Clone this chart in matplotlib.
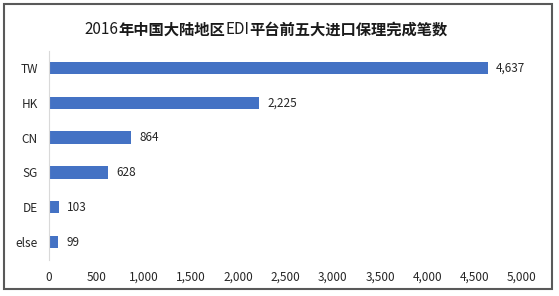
import matplotlib
matplotlib.use("Agg")
import matplotlib.pyplot as plt
from matplotlib.patches import Rectangle

plt.rcParams['font.family'] = ['Noto Sans CJK SC', 'DejaVu Sans']

categories = ["TW", "HK", "CN", "SG", "DE", "else"]
values = [4637, 2225, 864, 628, 103, 99]
xticks = [0, 500, 1000, 1500, 2000, 2500, 3000, 3500, 4000, 4500, 5000]
title_parts = [("2016", "normal"), ("年中国大陆地区", "bold"), ("EDI", "normal"),
               ("平台前五大进口保理完成笔数", "bold")]

W, H = 559, 296
fig = plt.figure(figsize=(W/100, H/100), dpi=100)
fig.patches.append(Rectangle((4/W, 1-289/H), 548/W, 285/H, transform=fig.transFigure,
                             fill=False, edgecolor="#595959", linewidth=1.5))
ax = fig.add_axes([49/W, 1-259.5/H, 473/W, 209/H])

txt_color = "#262626"
ypos = list(range(len(categories)))
ax.barh(ypos, values, height=0.35, color="#4472C4")
ax.set_ylim(len(categories)-0.5, -0.5)
ax.set_xlim(0, 5000)
ax.set_yticks(ypos)
ax.set_yticklabels(categories, fontsize=8.5, color=txt_color)
ax.set_xticks(xticks)
ax.set_xticklabels([f"{t:,}" for t in xticks], fontsize=8.5, color=txt_color)
ax.tick_params(axis='both', length=0)
ax.tick_params(axis='y', pad=8)
ax.tick_params(axis='x', pad=8)
for s in ["top", "right", "bottom"]:
    ax.spines[s].set_visible(False)
ax.spines["left"].set_color("#D9D9D9")
for y, v in zip(ypos, values):
    ax.annotate(f"{v:,}", (v, y), xytext=(6, 0), textcoords="offset points",
                va="center", ha="left", fontsize=8.5, color=txt_color)

# title built from parts with mixed weights
renderer = fig.canvas.get_renderer()
texts = []
x = 0
for s, w in title_parts:
    t = fig.text(x, 1-29.5/H, s, ha="left", va="center", fontsize=11,
                 fontweight=w, color="#1a1a1a")
    bb = t.get_window_extent(renderer)
    x += bb.width / W
    texts.append(t)
total = x
start = 266/W - total/2
for t in texts:
    t.set_x(t.get_position()[0] + start)

fig.savefig("out.png", dpi=100)
